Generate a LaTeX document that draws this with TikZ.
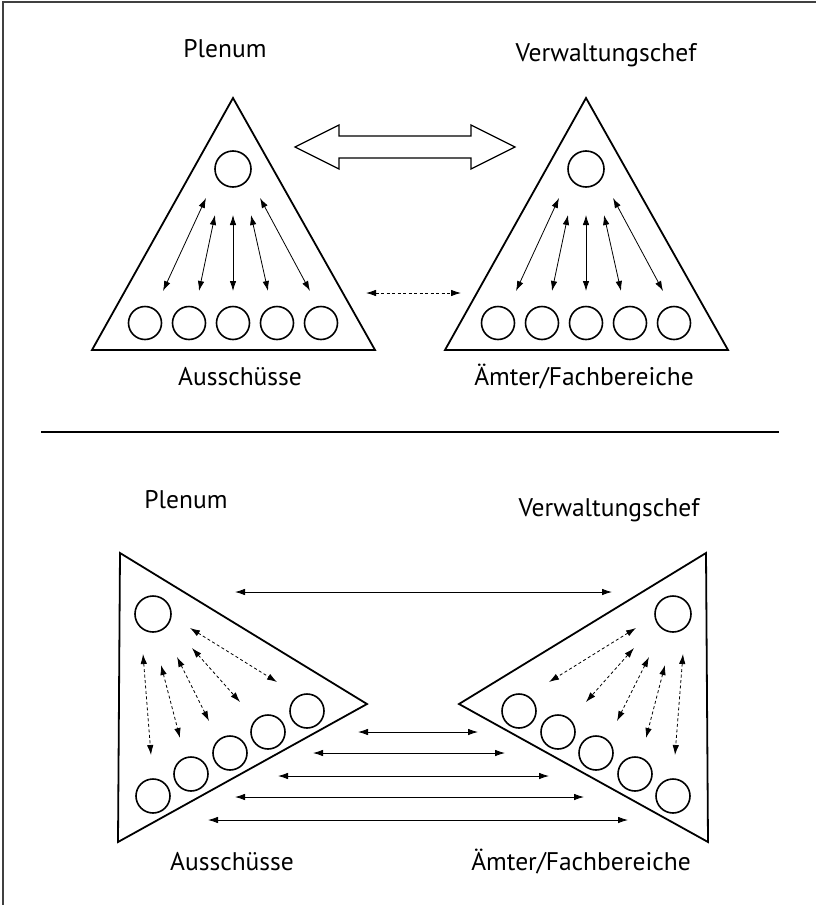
\documentclass[tikz,border=0pt]{standalone}
\usepackage{fontspec}
\setmainfont{PT Sans}
\usetikzlibrary{arrows.meta}

\begin{document}
\begin{tikzpicture}[x=1pt,y=-1pt,
  tri/.style={line width=1.8pt,line join=miter},
  ring/.style={circle,draw,line width=1.6pt,inner sep=0pt,minimum size=#1},
  link/.style={line width=0.8pt,{Latex[length=10pt,width=6.5pt]}-{Latex[length=10pt,width=6.5pt]}},
  dlink/.style={link,dash pattern=on 3pt off 2.5pt},
  lbl/.style={font=\fontsize{25.5}{30}\selectfont,anchor=base}]
  \useasboundingbox (0,0) rectangle (816,905);
  \draw [line width=1.5pt,black!75] (3,905) -- (3,2) -- (816,2);

  % oben
  \foreach \dx/\sd in {0/L,353/R}{
    \begin{scope}[xshift=\dx]
      \draw [tri] (233,98) -- (92,350) -- (375,350) -- cycle;
      \node [ring=36] (\sd0) at (233,169) {};
      \foreach \k/\ox in {1/-88,2/-44,3/0,4/44,5/88}
        \node [ring=33] (\sd\k) at (233+\ox,323) {};
      \foreach \k/\ax/\ay/\bx in {1/-27/198/-70,2/-18/215/-34,3/0/215/0,4/18/215/35,5/27/198/77}{
        \coordinate (\sd U\k) at (233+\ax,\ay);
        \coordinate (\sd D\k) at (233+\bx,291);
        \draw [link] (\sd U\k) -- (\sd D\k);
      }
    \end{scope}
  }
  \draw [line width=1.3pt,line join=miter] (295,147) -- (339,125) -- (339,136) -- (471,136)
    -- (471,125) -- (515,147) -- (471,169) -- (471,158) -- (339,158) -- (339,169) -- cycle;
  \coordinate (DL) at (366,293);
  \coordinate (DR) at (461,293);
  \draw [dlink] (DL) -- (DR);

  \node [lbl] (PL1) at (225,57) {Plenum};
  \node [lbl] (VC1) at (606,61) {Verwaltungschef};
  \node [lbl] (AS1) at (240,385) {Ausschüsse};
  \node [lbl] (AF1) at (584,385) {Ämter/Fachbereiche};

  \coordinate (SL) at (41,432);
  \coordinate (SR) at (779,432);
  \draw [line width=1.2pt] (SL) -- (SR);

  % unten
  \foreach \sd/\xs/\sc in {P/0/1,V/826/-1}{
    \begin{scope}[xshift=\xs,xscale=\sc]
      \draw [tri] (120,553) -- (367,704) -- (118,842) -- cycle;
      \node [ring=36] (\sd0) at (153,614) {};
      \foreach \k/\cx/\cy in {1/153/796,2/191/774,3/230/753,4/268/732,5/307/711}
        \node [ring=34] (\sd\k) at (\cx,\cy) {};
      \foreach \k/\ax/\ay/\bx/\by in {1/143/654/151/755,2/161/665/180/738,3/177/657/209/721,4/192/648/240/702,5/190/628/277/682}{
        \coordinate (\sd U\k) at (\ax,\ay);
        \coordinate (\sd D\k) at (\bx,\by);
        \draw [dlink] (\sd U\k) -- (\sd D\k);
      }
    \end{scope}
  }
  \foreach \k/\y/\xa/\xb in {0/592/235/612,1/732/358/478,2/753/313/505,3/776/278/549,4/797/235/584,5/820/208/628}{
    \coordinate (HL\k) at (\xa,\y);
    \coordinate (HR\k) at (\xb,\y);
    \draw [link] (HL\k) -- (HR\k);
  }

  \node [lbl] (PL2) at (186,508) {Plenum};
  \node [lbl] (VC2) at (609,516) {Verwaltungschef};
  \node [lbl] (AS2) at (232,870) {Ausschüsse};
  \node [lbl] (AF2) at (581,870) {Ämter/Fachbereiche};
\end{tikzpicture}
\end{document}
